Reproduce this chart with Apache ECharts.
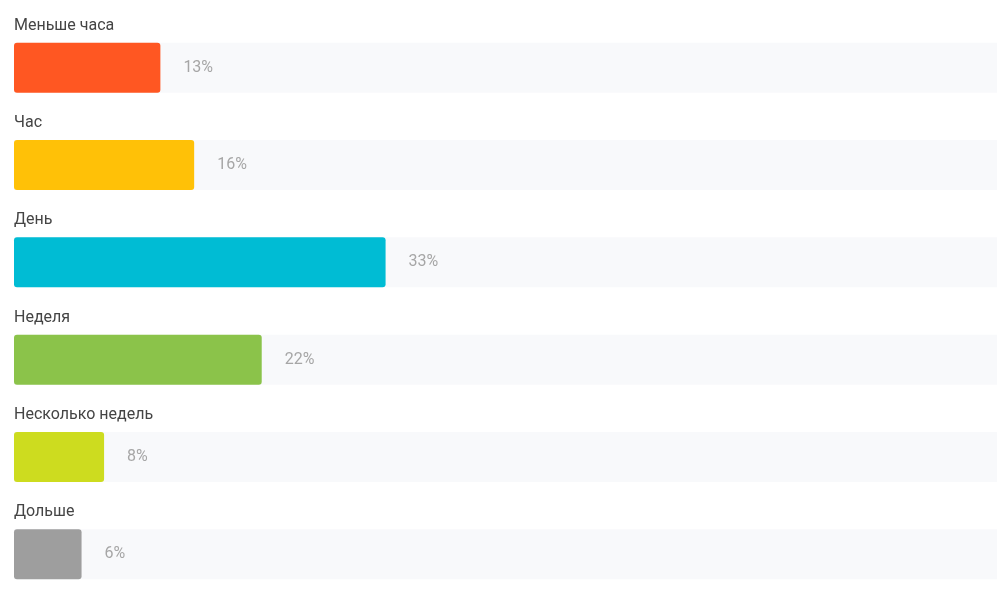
<!DOCTYPE html>
<html>
<head>
<meta charset="utf-8">
<script src="https://cdn.jsdelivr.net/npm/echarts@6/dist/echarts.min.js"></script>
<style>
html,body{margin:0;padding:0;background:#fff;}
#chart{width:997px;height:592px;}
</style>
</head>
<body>
<div id="chart"></div>
<script>
const categories = ['Меньше часа', 'Час', 'День', 'Неделя', 'Несколько недель', 'Дольше'];
const values = [13, 16, 33, 22, 8, 6];
const colors = ['#FF5722', '#FFC107', '#00BCD4', '#8BC34A', '#CDDC1F', '#9E9E9E'];

const chart = echarts.init(document.getElementById('chart'));
chart.setOption({
  animation: false,
  grid: { left: 14, right: 0, top: 19, height: 584, outerBoundsMode: 'none', containLabel: false },
  xAxis: { type: 'value', min: 0, max: 87.3, show: false },
  yAxis: {
    type: 'category', data: categories, inverse: true,
    axisLine: { show: false }, axisTick: { show: false }, axisLabel: { show: false }
  },
  series: [
    {
      type: 'bar',
      barWidth: 50,
      data: values.map((v, i) => ({ value: v, itemStyle: { color: colors[i] } })),
      itemStyle: { borderRadius: 3 },
      showBackground: true,
      backgroundStyle: { color: '#F8F9FB' },
      label: {
        show: true, position: 'right', distance: 23,
        formatter: '{c}%', color: '#A6A6A6',
        fontFamily: 'Roboto', fontSize: 16
      }
    },
    {
      type: 'bar',
      barWidth: 50,
      barGap: '-100%',
      silent: true,
      data: values,
      itemStyle: { color: 'rgba(0,0,0,0)' },
      label: {
        show: true, position: [0, -25], align: 'left', verticalAlign: 'top',
        formatter: '{b}', color: '#444',
        fontFamily: 'Roboto', fontSize: 16
      }
    }
  ]
});
</script>
</body>
</html>
